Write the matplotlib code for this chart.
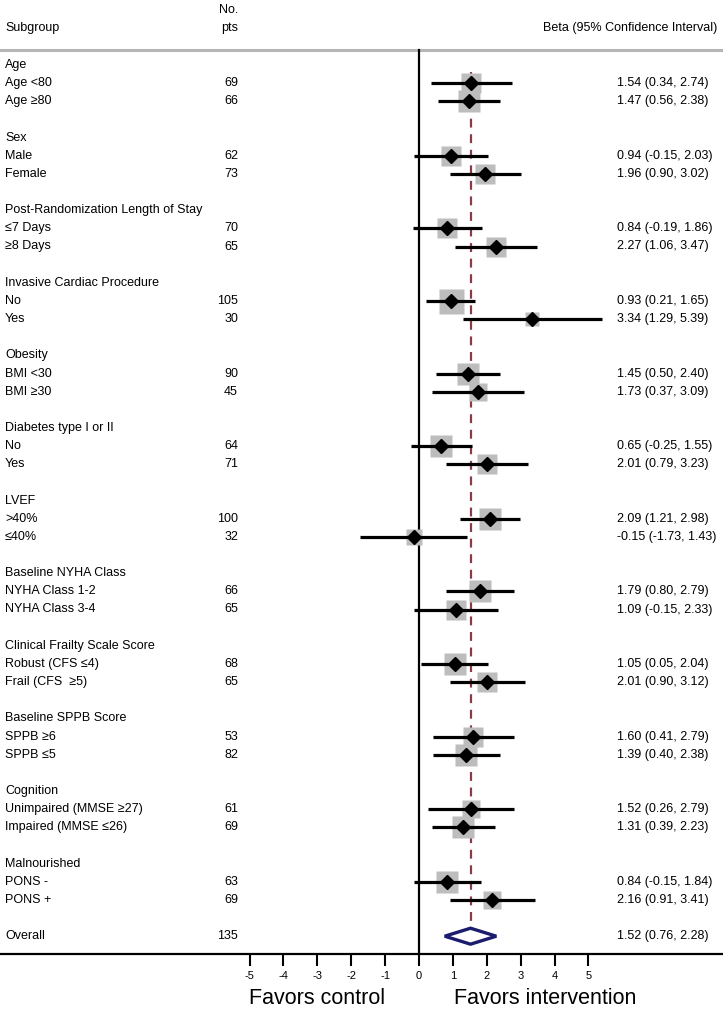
import numpy as np
import matplotlib
matplotlib.use("Agg")
import matplotlib.pyplot as plt
from matplotlib.patches import Polygon

plt.rcParams['font.family'] = ['Liberation Sans', 'DejaVu Sans']
plt.rcParams['axes.unicode_minus'] = False

# subgroups
groups = ["Age", "Sex", "Post-Randomization Length of Stay", "Invasive Cardiac Procedure",
          "Obesity", "Diabetes type I or II", "LVEF", "Baseline NYHA Class",
          "Clinical Frailty Scale Score", "Baseline SPPB Score", "Cognition", "Malnourished"]
labels = [["Age <80", "Age \u226580"],
          ["Male", "Female"],
          ["\u22647 Days", "\u22658 Days"],
          ["No", "Yes"],
          ["BMI <30", "BMI \u226530"],
          ["No", "Yes"],
          [">40%", "\u226440%"],
          ["NYHA Class 1-2", "NYHA Class 3-4"],
          ["Robust (CFS \u22644)", "Frail (CFS  \u22655)"],
          ["SPPB \u22656", "SPPB \u22645"],
          ["Unimpaired (MMSE \u226527)", "Impaired (MMSE \u226426)"],
          ["PONS -", "PONS +"]]
n_pts = [[69, 66], [62, 73], [70, 65], [105, 30], [90, 45], [64, 71],
         [100, 32], [66, 65], [68, 65], [53, 82], [61, 69], [63, 69]]
beta = [[1.54, 1.47], [0.94, 1.96], [0.84, 2.27], [0.93, 3.34], [1.45, 1.73], [0.65, 2.01],
        [2.09, -0.15], [1.79, 1.09], [1.05, 2.01], [1.60, 1.39], [1.52, 1.31], [0.84, 2.16]]
lo = [[0.34, 0.56], [-0.15, 0.90], [-0.19, 1.06], [0.21, 1.29], [0.50, 0.37], [-0.25, 0.79],
      [1.21, -1.73], [0.80, -0.15], [0.05, 0.90], [0.41, 0.40], [0.26, 0.39], [-0.15, 0.91]]
hi = [[2.74, 2.38], [2.03, 3.02], [1.86, 3.47], [1.65, 5.39], [2.40, 3.09], [1.55, 3.23],
      [2.98, 1.43], [2.79, 2.33], [2.04, 3.12], [2.79, 2.38], [2.79, 2.23], [1.84, 3.41]]
overall_n = 135
overall = (1.52, 0.76, 2.28)
ticks = [-5, -4, -3, -2, -1, 0, 1, 2, 3, 4, 5]

W, H = 723, 1015
fig = plt.figure(figsize=(W / 100, H / 100), dpi=100)
ax = fig.add_axes([0, 0, 1, 1])

# pixel -> data helpers
X0, XS = 419.0, 33.9
Y0, YS = 65.0, 18.15
def px2x(p):
    return (p - X0) / XS
def px2y(p):
    return (p - Y0) / YS

ax.set_xlim(px2x(0), px2x(W))
ax.set_ylim(px2y(H), px2y(0))

fs = 9
axis_row = px2y(954)

for g, name in enumerate(groups):
    r0 = 4 * g
    ax.text(px2x(5), r0, name, fontsize=fs, va='center', ha='left')
    for k in range(2):
        r = r0 + 1 + k
        b, l, h, n = beta[g][k], lo[g][k], hi[g][k], n_pts[g][k]
        ax.text(px2x(5), r, labels[g][k], fontsize=fs, va='center', ha='left')
        ax.text(px2x(238), r, str(n), fontsize=fs, va='center', ha='right')
        ax.text(px2x(617), r, "%.2f (%.2f, %.2f)" % (b, l, h), fontsize=fs,
                va='center', ha='left')
        side = 30.0 / np.sqrt(h - l)  # pixels
        ax.plot([b], [r], marker='s', ms=side * 0.72, color='#bdbdbd', mec='none', zorder=3)
        ax.plot([l, h], [r, r], color='black', lw=2.3, zorder=4, solid_capstyle='butt')
        ax.plot([b], [r], marker='D', ms=7, color='black', zorder=5)

# overall
ro = 48
ax.text(px2x(5), ro, "Overall", fontsize=fs, va='center', ha='left')
ax.text(px2x(238), ro, str(overall_n), fontsize=fs, va='center', ha='right')
ax.text(px2x(617), ro, "%.2f (%.2f, %.2f)" % overall, fontsize=fs, va='center', ha='left')
ob, ol, oh = overall
dh = 0.44
ax.add_patch(Polygon([[ol, ro], [ob, ro - dh], [oh, ro], [ob, ro + dh]], closed=True,
                     facecolor='white', edgecolor='#1c1c6e', lw=2.4, zorder=4))

# reference dashed line at overall estimate
ax.plot([ob, ob], [0.4, ro], color='#8b3a4a', lw=1.6, ls=(0, (4, 3)), zorder=2)

# headers
ax.text(px2x(5), px2y(28), "Subgroup", fontsize=fs, va='center', ha='left')
ax.text(px2x(229), px2y(10), "No.", fontsize=fs, va='center', ha='center')
ax.text(px2x(238), px2y(28), "pts", fontsize=fs, va='center', ha='right')
ax.text(px2x(717), px2y(28), "Beta (95% Confidence Interval)", fontsize=fs,
        va='center', ha='right')
ax.axhline(px2y(50), color='#b5b5b5', lw=2.2)

# axes / spines
for s in ['top', 'right']:
    ax.spines[s].set_visible(False)
ax.spines['bottom'].set_position(('data', axis_row))
ax.spines['bottom'].set_linewidth(1.6)
ax.spines['left'].set_position(('data', 0))
ax.spines['left'].set_bounds(px2y(50), axis_row)
ax.spines['left'].set_linewidth(1.6)
ax.set_yticks([])
ax.set_xticks(ticks)
ax.set_xticklabels([str(t) for t in ticks])
ax.tick_params(axis='x', direction='out', length=8.5, width=1.5, labelsize=8, pad=4)

ax.text(px2x(317), px2y(998), "Favors control", fontsize=15.5, va='center', ha='center')
ax.text(px2x(454), px2y(998), "Favors intervention", fontsize=15.5, va='center', ha='left')

fig.savefig("out.png", dpi=100)
